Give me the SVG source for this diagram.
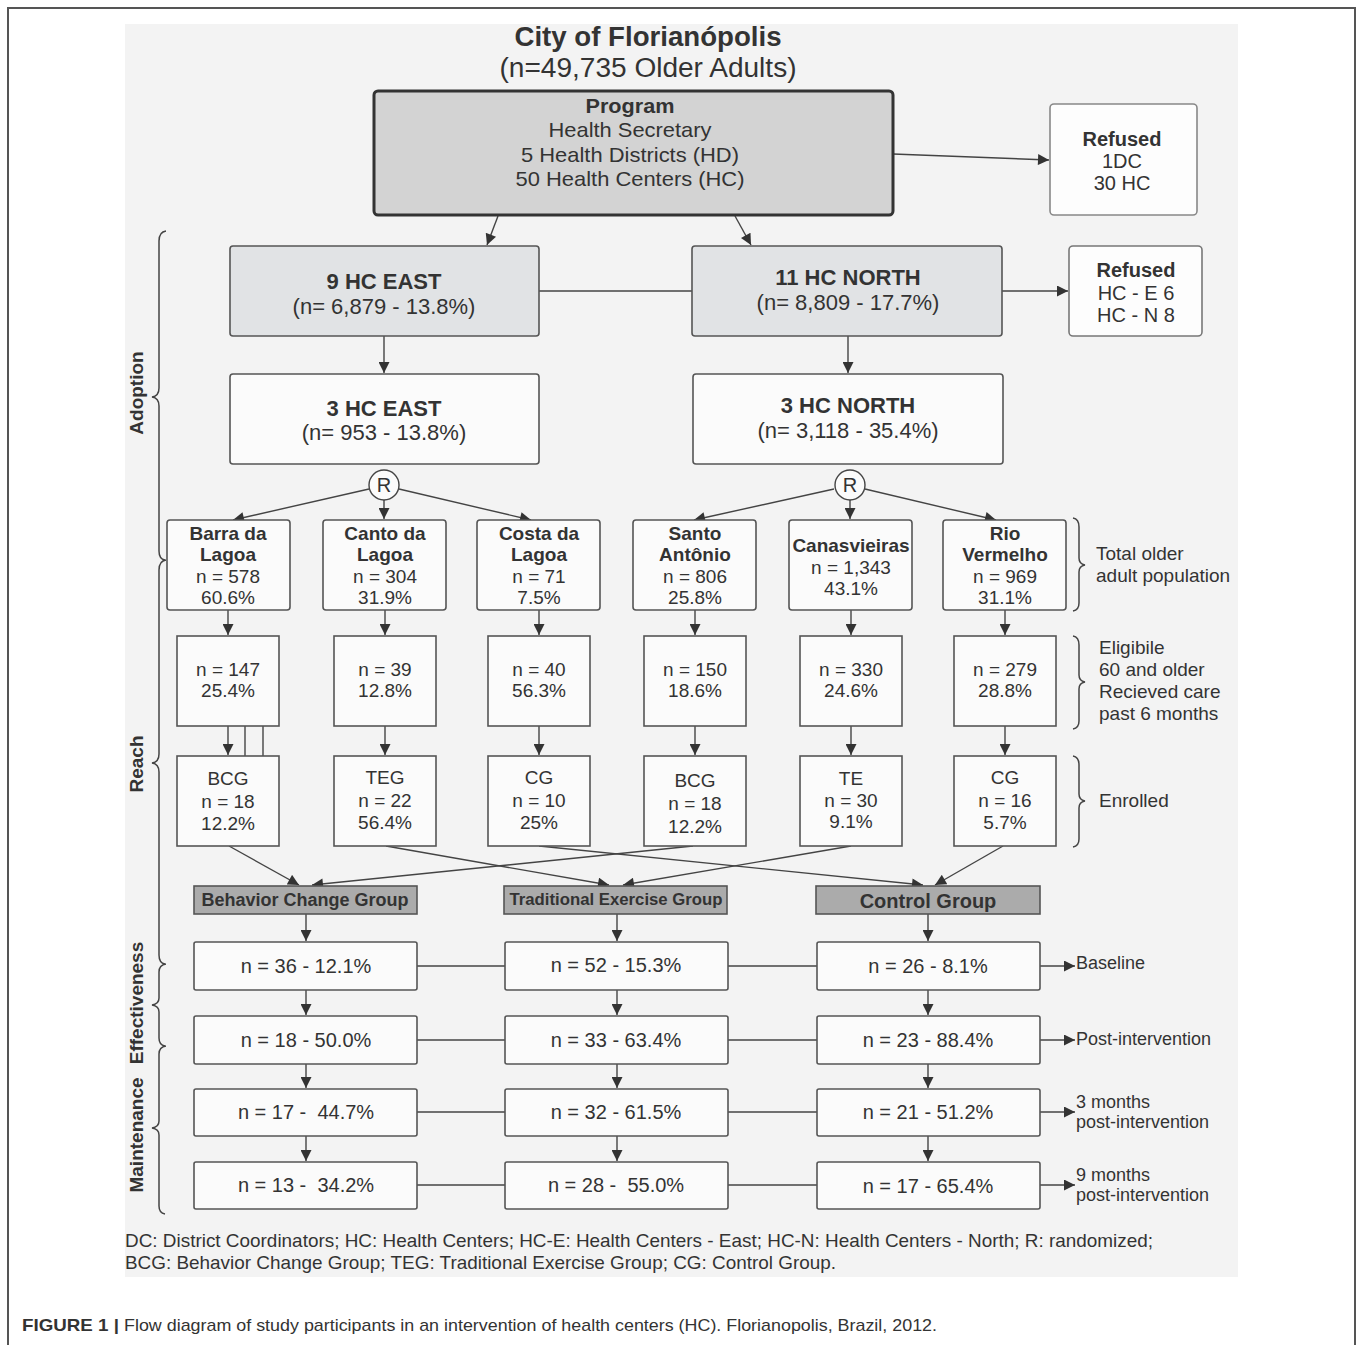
<svg xmlns="http://www.w3.org/2000/svg" width="1360" height="1345" viewBox="0 0 1360 1345">
<defs>
<marker id="ah" viewBox="0 0 10 10" refX="10" refY="5" markerWidth="12" markerHeight="11" markerUnits="userSpaceOnUse" orient="auto"><path d="M0,0 L10,5 L0,10 z" fill="#333"/></marker>
<style>
text{font-family:"Liberation Sans",Arial,sans-serif;fill:#333;}
.c{text-anchor:middle;}
.b{font-weight:bold;}
.box{fill:#fbfbfb;stroke:#555;stroke-width:1.6;}
.gbox{fill:#e1e3e5;stroke:#555;stroke-width:1.6;}
.hdr{fill:#ababab;stroke:#555;stroke-width:1.6;}
.ln{stroke:#444;stroke-width:1.4;fill:none;}
.ar{stroke:#444;stroke-width:1.4;fill:none;marker-end:url(#ah);}
.br{stroke:#444;stroke-width:1.5;fill:none;}
.f19{font-size:19px;}
.f22{font-size:22px;}
.f20{font-size:20px;}
.f18{font-size:18px;}
</style>
</defs>
<rect width="1360" height="1345" fill="#fff"/>
<path d="M8,1345 L8,8 L1355,8 L1355,1345" fill="none" stroke="#555" stroke-width="2"/>
<rect x="125" y="24" width="1113" height="1253" fill="#f3f3f3"/>

<g id="title">
<text class="c b" x="648" y="46" font-size="27" textLength="267" lengthAdjust="spacingAndGlyphs">City of Florianópolis</text>
<text class="c" x="648" y="77" font-size="27" textLength="297" lengthAdjust="spacingAndGlyphs">(n=49,735 Older Adults)</text>
</g>

<g id="connectors">
<line class="ar" x1="893" y1="154" x2="1049" y2="160"/>
<line class="ar" x1="498" y1="216" x2="487" y2="245"/>
<line class="ar" x1="735" y1="216" x2="751" y2="245"/>
<line class="ln" x1="539" y1="291" x2="692" y2="291"/>
<line class="ar" x1="1002" y1="291" x2="1068" y2="291"/>
<line class="ar" x1="384" y1="336" x2="384" y2="373"/>
<line class="ar" x1="848" y1="336" x2="848" y2="373"/>
<line class="ar" x1="369" y1="489" x2="233" y2="520"/>
<line class="ar" x1="384" y1="500" x2="384" y2="519"/>
<line class="ar" x1="399" y1="489" x2="531" y2="520"/>
<line class="ar" x1="834" y1="489" x2="694" y2="520"/>
<line class="ar" x1="850" y1="500" x2="850" y2="519"/>
<line class="ar" x1="865" y1="489" x2="996" y2="520"/>
<line class="ar" x1="228" y1="610" x2="228" y2="635"/>
<line class="ar" x1="385" y1="610" x2="385" y2="635"/>
<line class="ar" x1="539" y1="610" x2="539" y2="635"/>
<line class="ar" x1="695" y1="610" x2="695" y2="635"/>
<line class="ar" x1="851" y1="610" x2="851" y2="635"/>
<line class="ar" x1="1005" y1="610" x2="1005" y2="635"/>
<line class="ar" x1="228" y1="726" x2="228" y2="755"/>
<line class="ln" x1="245" y1="726" x2="245" y2="756"/>
<line class="ln" x1="263" y1="726" x2="263" y2="756"/>
<line class="ar" x1="385" y1="726" x2="385" y2="755"/>
<line class="ar" x1="539" y1="726" x2="539" y2="755"/>
<line class="ar" x1="695" y1="726" x2="695" y2="755"/>
<line class="ar" x1="851" y1="726" x2="851" y2="755"/>
<line class="ar" x1="1005" y1="726" x2="1005" y2="755"/>
<line class="ar" x1="229" y1="846" x2="299" y2="885"/>
<line class="ar" x1="693" y1="846" x2="312" y2="885"/>
<line class="ar" x1="386" y1="846" x2="609" y2="885"/>
<line class="ar" x1="851" y1="846" x2="623" y2="885"/>
<line class="ar" x1="539" y1="846" x2="923" y2="885"/>
<line class="ar" x1="1003" y1="846" x2="935" y2="885"/>
<line class="ar" x1="306" y1="914" x2="306" y2="941"/>
<line class="ar" x1="617" y1="914" x2="617" y2="941"/>
<line class="ar" x1="928" y1="914" x2="928" y2="941"/>
<line class="ar" x1="306" y1="990" x2="306" y2="1015"/>
<line class="ar" x1="617" y1="990" x2="617" y2="1015"/>
<line class="ar" x1="928" y1="990" x2="928" y2="1015"/>
<line class="ar" x1="306" y1="1064" x2="306" y2="1088"/>
<line class="ar" x1="617" y1="1064" x2="617" y2="1088"/>
<line class="ar" x1="928" y1="1064" x2="928" y2="1088"/>
<line class="ar" x1="306" y1="1136" x2="306" y2="1161"/>
<line class="ar" x1="617" y1="1136" x2="617" y2="1161"/>
<line class="ar" x1="928" y1="1136" x2="928" y2="1161"/>
<line class="ln" x1="417" y1="966" x2="505" y2="966"/>
<line class="ln" x1="728" y1="966" x2="817" y2="966"/>
<line class="ln" x1="417" y1="1040" x2="505" y2="1040"/>
<line class="ln" x1="728" y1="1040" x2="817" y2="1040"/>
<line class="ln" x1="417" y1="1112" x2="505" y2="1112"/>
<line class="ln" x1="728" y1="1112" x2="817" y2="1112"/>
<line class="ln" x1="417" y1="1185" x2="505" y2="1185"/>
<line class="ln" x1="728" y1="1185" x2="817" y2="1185"/>
<line class="ar" x1="1040" y1="966" x2="1075" y2="966"/>
<line class="ar" x1="1040" y1="1040" x2="1075" y2="1040"/>
<line class="ar" x1="1040" y1="1112" x2="1075" y2="1112"/>
<line class="ar" x1="1040" y1="1185" x2="1075" y2="1185"/>
</g>

<g id="program">
<rect x="374" y="91" width="519" height="124" rx="4" fill="#d3d3d3" stroke="#333" stroke-width="3"/>
<text class="c b" x="630" y="113" font-size="21" textLength="89" lengthAdjust="spacingAndGlyphs">Program</text>
<text class="c" x="630" y="137" font-size="21" textLength="163" lengthAdjust="spacingAndGlyphs">Health Secretary</text>
<text class="c" x="630" y="162" font-size="21" textLength="218" lengthAdjust="spacingAndGlyphs">5 Health Districts (HD)</text>
<text class="c" x="630" y="186" font-size="21" textLength="229" lengthAdjust="spacingAndGlyphs">50 Health Centers (HC)</text>
</g>

<g id="refused1">
<rect x="1050" y="104" width="147" height="111" rx="4" fill="#fdfdfd" stroke="#888" stroke-width="1.6"/>
<text class="c b f20" x="1122" y="146">Refused</text>
<text class="c f20" x="1122" y="168">1DC</text>
<text class="c f20" x="1122" y="190">30 HC</text>
</g>

<g id="east9">
<rect class="gbox" x="230" y="246" width="309" height="90" rx="3"/>
<text class="c b f22" x="384" y="289">9 HC EAST</text>
<text class="c f22" x="384" y="314">(n= 6,879 - 13.8%)</text>
</g>
<g id="north11">
<rect class="gbox" x="692" y="246" width="310" height="90" rx="3"/>
<text class="c b f22" x="848" y="285">11 HC NORTH</text>
<text class="c f22" x="848" y="310">(n= 8,809 - 17.7%)</text>
</g>
<g id="refused2">
<rect x="1069" y="246" width="133" height="90" rx="4" fill="#fdfdfd" stroke="#777" stroke-width="1.6"/>
<text class="c b f20" x="1136" y="277">Refused</text>
<text class="c f20" x="1136" y="300">HC - E 6</text>
<text class="c f20" x="1136" y="322">HC - N 8</text>
</g>
<g id="east3">
<rect class="box" x="230" y="374" width="309" height="90" rx="3"/>
<text class="c b f22" x="384" y="416">3 HC EAST</text>
<text class="c f22" x="384" y="440">(n= 953 - 13.8%)</text>
</g>
<g id="north3">
<rect class="box" x="693" y="374" width="310" height="90" rx="3"/>
<text class="c b f22" x="848" y="413">3 HC NORTH</text>
<text class="c f22" x="848" y="438">(n= 3,118 - 35.4%)</text>
</g>
<g id="r-east">
<circle cx="384" cy="485" r="15" fill="#fbfbfb" stroke="#444" stroke-width="1.4"/>
<text class="c f20" x="384" y="492">R</text>
</g>
<g id="r-north">
<circle cx="850" cy="485" r="15" fill="#fbfbfb" stroke="#444" stroke-width="1.4"/>
<text class="c f20" x="850" y="492">R</text>
</g>

<g id="barra">
<rect class="box" x="167" y="520" width="123" height="90" rx="3"/>
<text class="c b f19" x="228" y="540">Barra da</text>
<text class="c b f19" x="228" y="561">Lagoa</text>
<text class="c f19" x="228" y="583">n = 578</text>
<text class="c f19" x="228" y="604">60.6%</text>
</g>
<g id="canto">
<rect class="box" x="323" y="520" width="123" height="90" rx="3"/>
<text class="c b f19" x="385" y="540">Canto da</text>
<text class="c b f19" x="385" y="561">Lagoa</text>
<text class="c f19" x="385" y="583">n = 304</text>
<text class="c f19" x="385" y="604">31.9%</text>
</g>
<g id="costa">
<rect class="box" x="477" y="520" width="123" height="90" rx="3"/>
<text class="c b f19" x="539" y="540">Costa da</text>
<text class="c b f19" x="539" y="561">Lagoa</text>
<text class="c f19" x="539" y="583">n = 71</text>
<text class="c f19" x="539" y="604">7.5%</text>
</g>
<g id="santo">
<rect class="box" x="633" y="520" width="123" height="90" rx="3"/>
<text class="c b f19" x="695" y="540">Santo</text>
<text class="c b f19" x="695" y="561">Antônio</text>
<text class="c f19" x="695" y="583">n = 806</text>
<text class="c f19" x="695" y="604">25.8%</text>
</g>
<g id="canasvieiras">
<rect class="box" x="789" y="520" width="123" height="90" rx="3"/>
<text class="c b f19" x="851" y="552">Canasvieiras</text>
<text class="c f19" x="851" y="574">n = 1,343</text>
<text class="c f19" x="851" y="595">43.1%</text>
</g>
<g id="rio">
<rect class="box" x="943" y="520" width="123" height="90" rx="3"/>
<text class="c b f19" x="1005" y="540">Rio</text>
<text class="c b f19" x="1005" y="561">Vermelho</text>
<text class="c f19" x="1005" y="583">n = 969</text>
<text class="c f19" x="1005" y="604">31.1%</text>
</g>

<g id="barra-elig"><rect class="box" x="177" y="636" width="102" height="90"/><text class="c f19" x="228" y="676">n = 147</text><text class="c f19" x="228" y="697">25.4%</text></g>
<g id="canto-elig"><rect class="box" x="334" y="636" width="102" height="90"/><text class="c f19" x="385" y="676">n = 39</text><text class="c f19" x="385" y="697">12.8%</text></g>
<g id="costa-elig"><rect class="box" x="488" y="636" width="102" height="90"/><text class="c f19" x="539" y="676">n = 40</text><text class="c f19" x="539" y="697">56.3%</text></g>
<g id="santo-elig"><rect class="box" x="644" y="636" width="102" height="90"/><text class="c f19" x="695" y="676">n = 150</text><text class="c f19" x="695" y="697">18.6%</text></g>
<g id="canas-elig"><rect class="box" x="800" y="636" width="102" height="90"/><text class="c f19" x="851" y="676">n = 330</text><text class="c f19" x="851" y="697">24.6%</text></g>
<g id="rio-elig"><rect class="box" x="954" y="636" width="102" height="90"/><text class="c f19" x="1005" y="676">n = 279</text><text class="c f19" x="1005" y="697">28.8%</text></g>

<g id="barra-enr"><rect class="box" x="177" y="756" width="102" height="90"/><text class="c f19" x="228" y="785">BCG</text><text class="c f19" x="228" y="808">n = 18</text><text class="c f19" x="228" y="830">12.2%</text></g>
<g id="canto-enr"><rect class="box" x="334" y="756" width="102" height="90"/><text class="c f19" x="385" y="784">TEG</text><text class="c f19" x="385" y="807">n = 22</text><text class="c f19" x="385" y="829">56.4%</text></g>
<g id="costa-enr"><rect class="box" x="488" y="756" width="102" height="90"/><text class="c f19" x="539" y="784">CG</text><text class="c f19" x="539" y="807">n = 10</text><text class="c f19" x="539" y="829">25%</text></g>
<g id="santo-enr"><rect class="box" x="644" y="756" width="102" height="90"/><text class="c f19" x="695" y="787">BCG</text><text class="c f19" x="695" y="810">n = 18</text><text class="c f19" x="695" y="833">12.2%</text></g>
<g id="canas-enr"><rect class="box" x="800" y="756" width="102" height="90"/><text class="c f19" x="851" y="785">TE</text><text class="c f19" x="851" y="807">n = 30</text><text class="c f19" x="851" y="828">9.1%</text></g>
<g id="rio-enr"><rect class="box" x="954" y="756" width="102" height="90"/><text class="c f19" x="1005" y="784">CG</text><text class="c f19" x="1005" y="807">n = 16</text><text class="c f19" x="1005" y="829">5.7%</text></g>

<g id="bcg-header"><rect class="hdr" x="194" y="886" width="223" height="28"/><text class="c b f18" x="305" y="906">Behavior Change Group</text></g>
<g id="teg-header"><rect class="hdr" x="504" y="886" width="223" height="28"/><text class="c b" x="616" y="905" font-size="17" textLength="213" lengthAdjust="spacingAndGlyphs">Traditional Exercise Group</text></g>
<g id="cg-header"><rect class="hdr" x="816" y="886" width="224" height="28"/><text class="c b f20" x="928" y="908">Control Group</text></g>

<g id="bcg-baseline"><rect class="box" x="194" y="942" width="223" height="48" rx="2"/><text class="c f20" x="306" y="973">n = 36 - 12.1%</text></g>
<g id="teg-baseline"><rect class="box" x="505" y="942" width="223" height="48" rx="2"/><text class="c f20" x="616" y="972">n = 52 - 15.3%</text></g>
<g id="cg-baseline"><rect class="box" x="817" y="942" width="223" height="48" rx="2"/><text class="c f20" x="928" y="973">n = 26 - 8.1%</text></g>

<g id="bcg-post"><rect class="box" x="194" y="1016" width="223" height="48" rx="2"/><text class="c f20" x="306" y="1047">n = 18 - 50.0%</text></g>
<g id="teg-post"><rect class="box" x="505" y="1016" width="223" height="48" rx="2"/><text class="c f20" x="616" y="1047">n = 33 - 63.4%</text></g>
<g id="cg-post"><rect class="box" x="817" y="1016" width="223" height="48" rx="2"/><text class="c f20" x="928" y="1047">n = 23 - 88.4%</text></g>

<g id="bcg-3m"><rect class="box" x="194" y="1089" width="223" height="47" rx="2"/><text class="c f20" x="306" y="1119">n = 17 -&#160; 44.7%</text></g>
<g id="teg-3m"><rect class="box" x="505" y="1089" width="223" height="47" rx="2"/><text class="c f20" x="616" y="1119">n = 32 - 61.5%</text></g>
<g id="cg-3m"><rect class="box" x="817" y="1089" width="223" height="47" rx="2"/><text class="c f20" x="928" y="1119">n = 21 - 51.2%</text></g>

<g id="bcg-9m"><rect class="box" x="194" y="1162" width="223" height="47" rx="2"/><text class="c f20" x="306" y="1192">n = 13 -&#160; 34.2%</text></g>
<g id="teg-9m"><rect class="box" x="505" y="1162" width="223" height="47" rx="2"/><text class="c f20" x="616" y="1192">n = 28 -&#160; 55.0%</text></g>
<g id="cg-9m"><rect class="box" x="817" y="1162" width="223" height="47" rx="2"/><text class="c f20" x="928" y="1193">n = 17 - 65.4%</text></g>

<g id="time-labels">
<text class="f18" x="1076" y="969">Baseline</text>
<text class="f18" x="1076" y="1045">Post-intervention</text>
<text class="f18" x="1076" y="1108">3 months</text>
<text class="f18" x="1076" y="1128">post-intervention</text>
<text class="f18" x="1076" y="1181">9 months</text>
<text class="f18" x="1076" y="1201">post-intervention</text>
</g>

<g id="right-braces">
<path class="br" d="M1073,518 Q1079,519 1079,527 L1079,558 Q1079,564 1085,565 Q1079,566 1079,572 L1079,603 Q1079,610 1073,611"/>
<path class="br" d="M1073,636 Q1079,637 1079,645 L1079,675 Q1079,681 1085,682 Q1079,683 1079,689 L1079,721 Q1079,728 1073,729"/>
<path class="br" d="M1073,756 Q1079,757 1079,765 L1079,794 Q1079,800 1085,801 Q1079,802 1079,808 L1079,839 Q1079,846 1073,847"/>
<text class="f19" x="1096" y="560">Total older</text>
<text class="f19" x="1096" y="582">adult population</text>
<text class="f19" x="1099" y="654">Eligibile</text>
<text class="f19" x="1099" y="676">60 and older</text>
<text class="f19" x="1099" y="698">Recieved care</text>
<text class="f19" x="1099" y="720">past 6 months</text>
<text class="f19" x="1099" y="807">Enrolled</text>
</g>

<g id="left-braces">
<path class="br" d="M166,231 Q159,232 159,241 L159,388 Q159,396 152,397 Q159,398 159,406 L159,551 Q159,559 165,560"/>
<path class="br" d="M166,560 Q159,561 159,570 L159,754 Q159,762 152,763 Q159,764 159,772 L159,955 Q159,963 165,964"/>
<path class="br" d="M166,964 Q159,965 159,972 L159,998 Q159,1004 152,1005 Q159,1006 159,1012 L159,1038 Q159,1045 165,1046"/>
<path class="br" d="M166,1046 Q159,1047 159,1054 L159,1121 Q159,1127 152,1128 Q159,1129 159,1135 L159,1206 Q159,1213 165,1214"/>
<text class="c b f19" transform="translate(143,393) rotate(-90)">Adoption</text>
<text class="c b f19" transform="translate(143,764) rotate(-90)">Reach</text>
<text class="c b f19" transform="translate(143,1003) rotate(-90)">Effectiveness</text>
<text class="c b f19" transform="translate(143,1135) rotate(-90)">Maintenance</text>
</g>

<g id="footer">
<text x="125" y="1247" font-size="19" textLength="1028" lengthAdjust="spacingAndGlyphs">DC: District Coordinators; HC: Health Centers; HC-E: Health Centers - East; HC-N: Health Centers - North; R: randomized;</text>
<text x="125" y="1269" font-size="19" textLength="711" lengthAdjust="spacingAndGlyphs">BCG: Behavior Change Group; TEG: Traditional Exercise Group; CG: Control Group.</text>
</g>

<g id="caption">
<text x="22" y="1331" font-size="17" textLength="97" lengthAdjust="spacingAndGlyphs" font-weight="bold" fill="#222">FIGURE 1 |</text>
<text x="124" y="1331" font-size="17" textLength="813" lengthAdjust="spacingAndGlyphs" fill="#444">Flow diagram of study participants in an intervention of health centers (HC). Florianopolis, Brazil, 2012.</text>
</g>
</svg>
